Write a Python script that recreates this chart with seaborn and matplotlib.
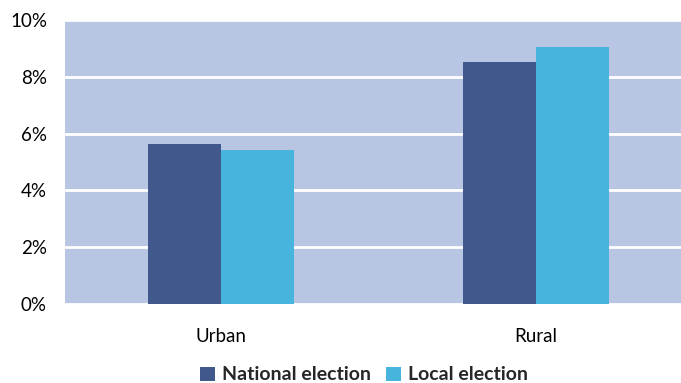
import matplotlib
matplotlib.use("Agg")
import matplotlib.pyplot as plt
import seaborn as sns
import pandas as pd
from matplotlib.patches import Patch
from matplotlib.ticker import FuncFormatter

categories = ["Urban", "Rural"]
series = ["National election", "Local election"]
national = [5.63, 8.52]
local = [5.42, 9.05]
colors = ["#40588B", "#46B4DC"]

df = pd.DataFrame({
    "area": categories * 2,
    "election": [series[0]] * 2 + [series[1]] * 2,
    "value": national + local,
})

sns.set_theme(style="white")
plt.rcParams['font.family'] = ['Lato', 'DejaVu Sans']

fig = plt.figure(figsize=(6.81, 3.83), dpi=100)
ax = fig.add_axes([65/681, 79/383, 1 - 65/681, 284/383])
ax.set_facecolor("#B8C6E3")

sns.barplot(data=df, x="area", y="value", hue="election", order=categories,
            hue_order=series, palette=colors, width=0.464, gap=0,
            saturation=1, ax=ax, legend=False, linewidth=0)

ax.set_xlim(-0.495, 1.46)
ax.set_ylim(0, 10)
ax.set_yticks([0, 2, 4, 6, 8, 10])
ax.yaxis.set_major_formatter(FuncFormatter(lambda v, p: f"{v:.0f}%"))
ax.grid(axis="y", color="white", linewidth=2)
ax.set_axisbelow(True)
for s in ax.spines.values():
    s.set_visible(False)
ax.tick_params(axis="both", length=0, labelsize=13.5, colors="#000000")
ax.tick_params(axis="y", pad=13)
ax.tick_params(axis="x", pad=17)
ax.set_xlabel("")
ax.set_ylabel("")

handles = [Patch(facecolor=c, edgecolor="none") for c in colors]
fig.legend(handles, series, loc="center", bbox_to_anchor=(364/681, 1 - 375/383),
           ncol=2, frameon=False, prop={"weight": "bold", "size": 14},
           handlelength=0.75, handleheight=0.75, handletextpad=0.35, columnspacing=0.8)

fig.savefig("out.png", dpi=100)
